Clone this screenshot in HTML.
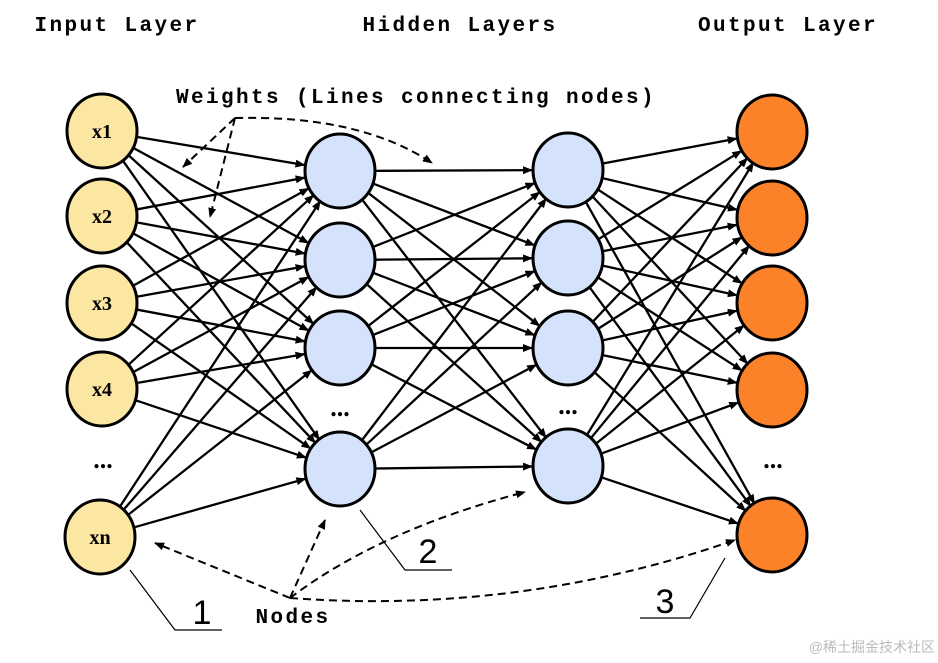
<!DOCTYPE html><html><head><style>body{margin:0;background:#fff}svg{display:block}</style></head><body>
<svg id="s" width="938" height="663" xmlns="http://www.w3.org/2000/svg" font-family="Liberation Mono, monospace">
<defs><marker id="a" markerWidth="10" markerHeight="8" refX="9" refY="4" orient="auto" markerUnits="userSpaceOnUse"><path d="M0,0L10,4L0,8z" fill="#000"/></marker></defs>
<g id="L" stroke="#000" stroke-width="2.3" fill="none"></g>
<g stroke="#000" stroke-width="2" fill="none" stroke-dasharray="8,5">
<path d="M235,118 Q360,115 432,163" marker-end="url(#a)"/>
<path d="M235,118 L183,167" marker-end="url(#a)"/>
<path d="M235,118 L210,217" marker-end="url(#a)"/>
<path d="M290,598 L155,543" marker-end="url(#a)"/>
<path d="M290,598 L325,520" marker-end="url(#a)"/>
<path d="M290,598 Q380,530 525,492" marker-end="url(#a)"/>
<path d="M290,598 Q520,615 735,540" marker-end="url(#a)"/>
</g>
<g stroke="#000" stroke-width="1.2" fill="none">
<path d="M130,570 L175,630 L222,630"/><path d="M360,510 L405,570 L452,570"/><path d="M725,558 L690,618 L640,618"/>
</g>
<g id="N" stroke="#000" stroke-width="3"></g>
<g font-weight="bold" font-size="21" letter-spacing="2.4" text-anchor="middle">
<text x="117" y="31">Input Layer</text><text x="460" y="31">Hidden Layers</text><text x="788" y="31">Output Layer</text>
<text x="416" y="103">Weights (Lines connecting nodes)</text>
<text x="293" y="623">Nodes</text>
</g>
<g font-family="Liberation Serif, serif" font-weight="bold" font-size="20" text-anchor="middle">
<text x="102" y="138">x1</text><text x="102" y="223">x2</text><text x="102" y="310">x3</text><text x="102" y="396">x4</text><text x="100" y="544">xn</text>
</g>
<g font-family="Liberation Serif, serif" font-weight="bold" font-size="26" text-anchor="middle">
<text x="103" y="468">...</text><text x="340" y="416">...</text><text x="568" y="414">...</text><text x="773" y="468">...</text>
</g>
<g font-family="Liberation Sans, sans-serif" font-size="34" text-anchor="middle">
<text x="202" y="624">1</text><text x="428" y="563">2</text><text x="665" y="613">3</text>
</g>
<text x="935" y="652" text-anchor="end" font-family="Liberation Sans, Noto Sans CJK SC, sans-serif" font-size="14" fill="#bbb">@稀土掘金技术社区</text>
</svg>
<script>
var I=[[102,131],[102,216],[102,303],[102,389],[100,537]],H1=[[340,171],[340,260],[340,348],[340,469]],H2=[[568,170],[568,258],[568,348],[568,466]],O=[[772,132],[772,218],[772,303],[772,390],[772,535]];
var ns="http://www.w3.org/2000/svg",L=document.getElementById('L'),N=document.getElementById('N');
function conn(A,B){A.forEach(function(p){B.forEach(function(q){var dx=q[0]-p[0],dy=q[1]-p[1],d=Math.hypot(dx,dy),r=36;var l=document.createElementNS(ns,'line');l.setAttribute('x1',p[0]+dx/d*r);l.setAttribute('y1',p[1]+dy/d*r);l.setAttribute('x2',q[0]-dx/d*r);l.setAttribute('y2',q[1]-dy/d*r);l.setAttribute('marker-end','url(#a)');L.appendChild(l);});});}
conn(I,H1);conn(H1,H2);conn(H2,O);
function nodes(A,f){A.forEach(function(p){var e=document.createElementNS(ns,'ellipse');e.setAttribute('cx',p[0]);e.setAttribute('cy',p[1]);e.setAttribute('rx',35);e.setAttribute('ry',37);e.setAttribute('fill',f);N.appendChild(e);});}
nodes(I,'#fbe6a2');nodes(H1,'#d4e3fb');nodes(H2,'#d4e3fb');nodes(O,'#fb8228');
</script>
</body></html>
